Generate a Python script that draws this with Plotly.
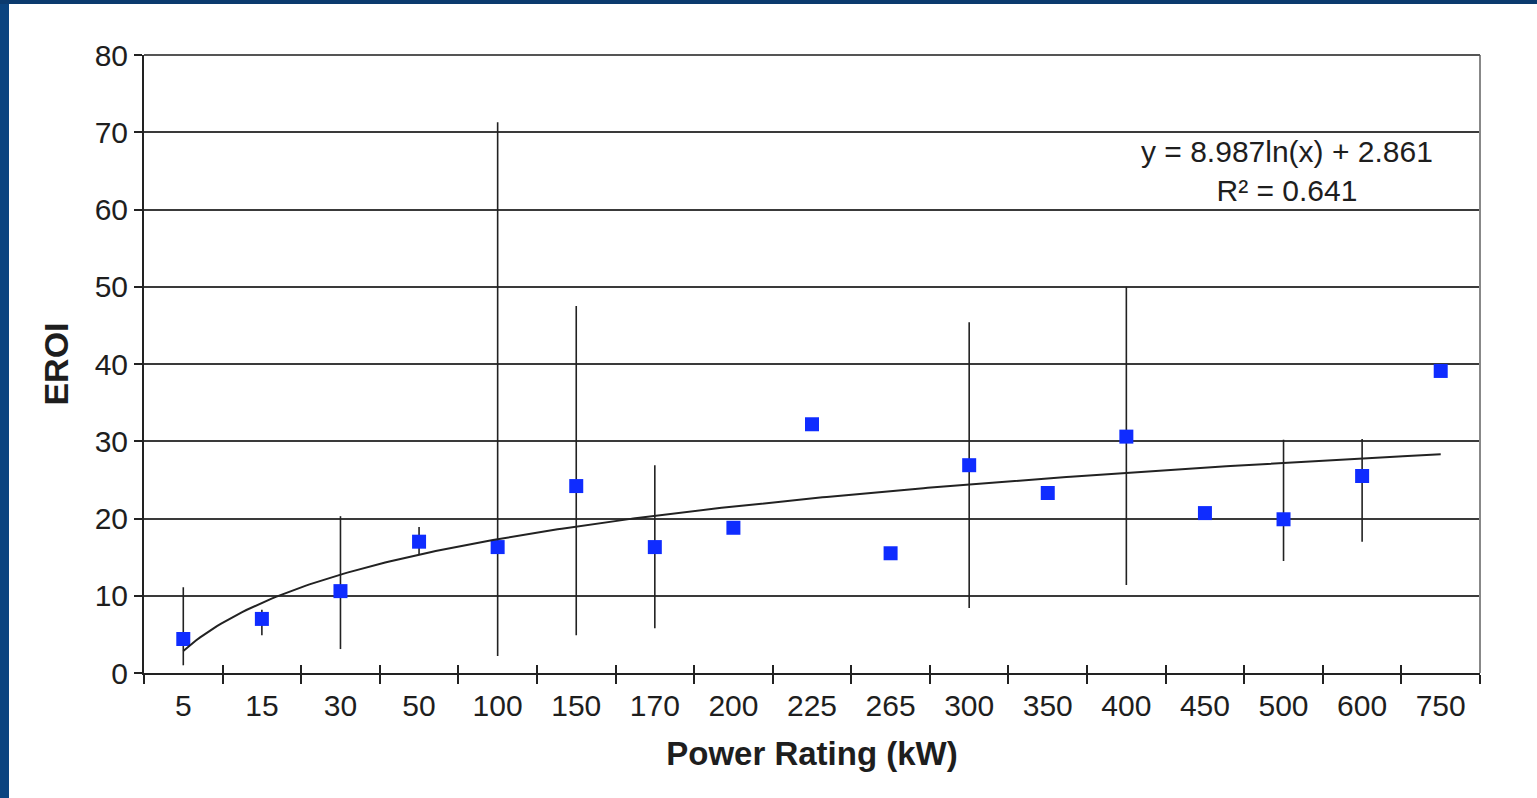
import numpy as np
import plotly.graph_objects as go

categories = ["5", "15", "30", "50", "100", "150", "170", "200", "225", "265",
              "300", "350", "400", "450", "500", "600", "750"]
eroi = [4.4, 7.0, 10.6, 17.0, 16.3, 24.2, 16.3, 18.8, 32.2, 15.5,
        26.9, 23.3, 30.6, 20.7, 19.9, 25.5, 39.1]
err_high = [11.1, 8.2, 20.3, 18.9, 71.3, 47.5, 26.9, None, None, None,
            45.4, None, 50.0, None, 30.2, 30.3, None]
err_low = [1.0, 4.9, 3.1, 15.3, 2.2, 4.9, 5.8, None, None, None,
           8.4, None, 11.4, None, 14.5, 17.0, None]
trend_a = 8.987
trend_b = 2.861
y_ticks = [0, 10, 20, 30, 40, 50, 60, 70, 80]

pos = list(range(1, len(categories) + 1))
plus = [(h - v) if h is not None else 0 for h, v in zip(err_high, eroi)]
minus = [(v - l) if l is not None else 0 for l, v in zip(err_low, eroi)]
tx = np.linspace(1, len(categories), 300)
ty = trend_a * np.log(tx) + trend_b
bounds = [p - 0.5 for p in pos] + [len(categories) + 0.5]

FONT = "Liberation Sans, Arial, sans-serif"
TXT = "#1e1e1e"

fig = go.Figure()
fig.add_trace(go.Scatter(
    x=pos, y=eroi, mode="markers",
    marker=dict(symbol="square", size=14, color="#0f2cff"),
    error_y=dict(type="data", symmetric=False, array=plus, arrayminus=minus,
                 width=0, thickness=1.6, color="#222222"),
    showlegend=False, hoverinfo="x+y"))
fig.add_trace(go.Scatter(x=tx, y=ty, mode="lines",
                         line=dict(color="#222222", width=2), showlegend=False))
fig.add_trace(go.Scatter(x=pos, y=eroi, xaxis="x2", mode="markers",
                         marker=dict(opacity=0), showlegend=False, hoverinfo="skip"))
fig.add_trace(go.Scatter(x=pos, y=eroi, xaxis="x3", mode="markers",
                         marker=dict(opacity=0), showlegend=False, hoverinfo="skip"))

rng = [0.5, len(categories) + 0.5]
fig.update_layout(
    width=1537, height=798,
    margin=dict(l=144, r=57, t=55, b=125),
    paper_bgcolor="white", plot_bgcolor="white",
    font=dict(family=FONT, color=TXT),
    xaxis=dict(range=rng, tickmode="array", tickvals=bounds, ticks="outside",
               ticklen=9, tickwidth=2, tickcolor="#222", showticklabels=False,
               showgrid=False, zeroline=False, showline=True, linecolor="#222",
               linewidth=2, mirror=False),
    xaxis2=dict(range=rng, overlaying="x", anchor="y", side="bottom",
                tickmode="array", tickvals=pos, ticktext=categories,
                ticks="outside", ticklen=6, tickcolor="rgba(0,0,0,0)",
                tickfont=dict(size=30, color=TXT), showgrid=False,
                zeroline=False, showline=False,
                title=dict(text="<b>Power Rating (kW)</b>", standoff=20,
                           font=dict(size=33, color=TXT))),
    xaxis3=dict(range=rng, overlaying="x", anchor="y", side="bottom",
                tickmode="array", tickvals=bounds, ticks="inside", ticklen=8,
                tickwidth=2, tickcolor="#222", showticklabels=False,
                showgrid=False, zeroline=False, showline=False),
    yaxis=dict(range=[0, 80], tickmode="array", tickvals=y_ticks, ticks="outside",
               ticklen=8, tickwidth=2, tickcolor="#222",
               tickfont=dict(size=30, color=TXT),
               showgrid=True, gridcolor="#3a3a3a", gridwidth=1.8,
               zeroline=False, showline=True, linecolor="#222", linewidth=2,
               title=dict(text="<b>EROI</b>", standoff=16,
                          font=dict(size=34, color=TXT))),
)

# right and top frame of plot area
fig.add_shape(type="line", xref="paper", yref="paper", x0=1, x1=1, y0=0, y1=1,
              line=dict(color="#888888", width=2))
fig.add_shape(type="line", xref="paper", yref="paper", x0=0, x1=1, y0=1, y1=1,
              line=dict(color="#555555", width=2))

# dark blue slide frame strips
W, H = 1336.0, 618.0
fig.add_shape(type="rect", xref="paper", yref="paper",
              x0=-144 / W, x1=(9 - 144) / W, y0=-125 / H, y1=673 / H,
              line=dict(width=0), fillcolor="#0b4480", layer="above")
fig.add_shape(type="rect", xref="paper", yref="paper",
              x0=-144 / W, x1=1393 / W, y0=(673 - 4) / H, y1=673 / H,
              line=dict(width=0), fillcolor="#0b3a6e", layer="above")

fig.add_annotation(xref="paper", yref="paper", x=(1287 - 144) / W, y=(673 - 171) / H,
                   xanchor="center", yanchor="middle",
                   text="y = 8.987ln(x) + 2.861<br>R² = 0.641", showarrow=False,
                   align="center", font=dict(size=30, color=TXT, family=FONT))

fig.write_html("out.html", config={"displayModeBar": False},
               post_script="document.body.style.margin='0';document.body.style.overflow='hidden';")
